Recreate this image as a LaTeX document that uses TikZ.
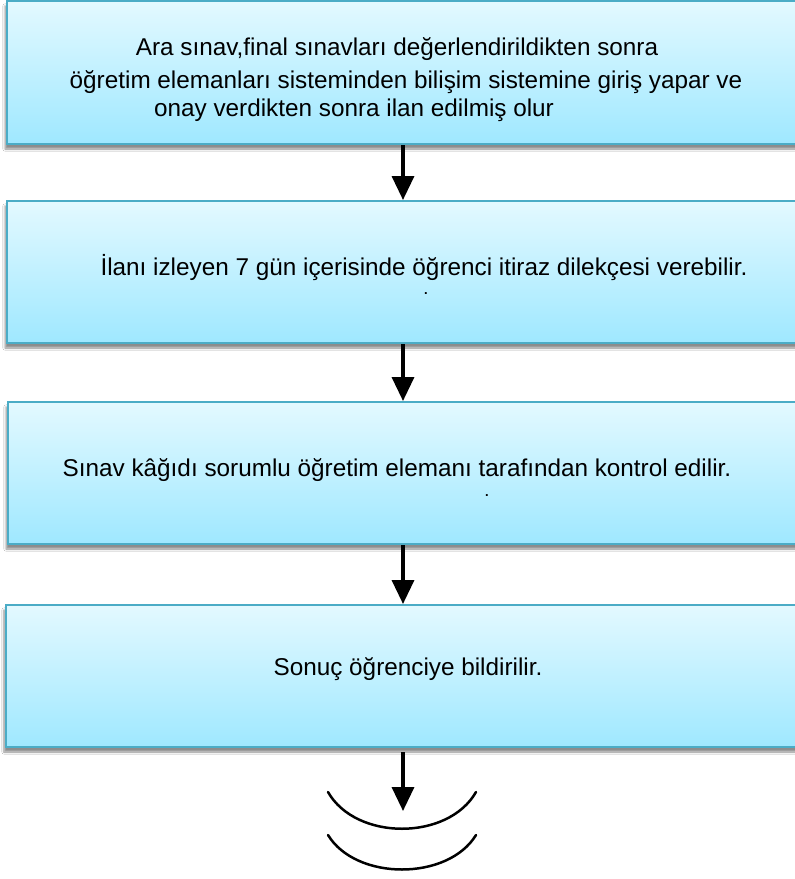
\documentclass[tikz,border=0pt]{standalone}
\usepackage{fontspec}
\setmainfont{Liberation Sans}
\usetikzlibrary{arrows.meta,shadows.blur}
\definecolor{boxtop}{HTML}{E3F9FF}
\definecolor{boxbot}{HTML}{9FE8FF}
\definecolor{boxline}{HTML}{4BACC6}
\tikzset{
  flowbox/.style={draw=boxline, line width=2pt, top color=boxtop, bottom color=boxbot,
    blur shadow={shadow xshift=-2pt, shadow yshift=-5pt, shadow blur steps=6, shadow opacity=45}},
  txt/.style={font=\fontsize{24.3}{29}\selectfont, inner sep=0pt, anchor=base},
  dottxt/.style={font=\bfseries\fontsize{13}{13}\selectfont, inner sep=0pt, anchor=base},
  flowarrow/.style={draw=black, line width=3.5pt, -{Triangle[width=22pt,length=24pt,fill=black]}},
  arcline/.style={draw=black, line width=2.5pt, line cap=round}
}
\begin{document}
\begin{tikzpicture}[x=1pt,y=-1pt]
\useasboundingbox (0,0) rectangle (795,879);
\fill[white] (0,0) rectangle (795,879);
% boxes
\path[flowbox] (7,1) rectangle (805,144);
\coordinate (b1s) at (403,145);
\path[flowbox] (7,201) rectangle (805,343);
\coordinate (b2n) at (403,200); \coordinate (b2s) at (403,344);
\path[flowbox] (8,402) rectangle (805,544);
\coordinate (b3n) at (403,401); \coordinate (b3s) at (403,545);
\path[flowbox] (6,605) rectangle (805,747);
\coordinate (b4n) at (403,604); \coordinate (b4s) at (403,752);
\coordinate (end) at (403,811);
% texts
\node[txt] (t1a) at (397,55) {Ara sınav,final sınavları değerlendirildikten sonra};
\node[txt] (t1b) at (406,88) {öğretim elemanları sisteminden bilişim sistemine giriş yapar ve};
\node[txt] (t1c) at (354,116) {onay verdikten sonra ilan edilmiş olur};
\node[txt] (t2) at (424,275) {İlanı izleyen 7 gün içerisinde öğrenci itiraz dilekçesi verebilir.};
\node[dottxt] (d2) at (426,294) {.};
\node[txt] (t3) at (397,476) {Sınav kâğıdı sorumlu öğretim elemanı tarafından kontrol edilir.};
\node[dottxt] (d3) at (487,496) {.};
\node[txt] (t4) at (408,675) {Sonuç öğrenciye bildirilir.};
% arrows
\draw[flowarrow] (b1s) -- (b2n);
\draw[flowarrow] (b2s) -- (b3n);
\draw[flowarrow] (b3s) -- (b4n);
\draw[flowarrow] (b4s) -- (end);
% arcs
\coordinate (a1l) at (328,792); \coordinate (a1r) at (476,792);
\coordinate (a2l) at (328,835); \coordinate (a2r) at (476,835);
\draw[arcline] (a1l) .. controls (356,841) and (448,841) .. (a1r);
\draw[arcline] (a2l) .. controls (356,881) and (448,881) .. (a2r);
\end{tikzpicture}
\end{document}
